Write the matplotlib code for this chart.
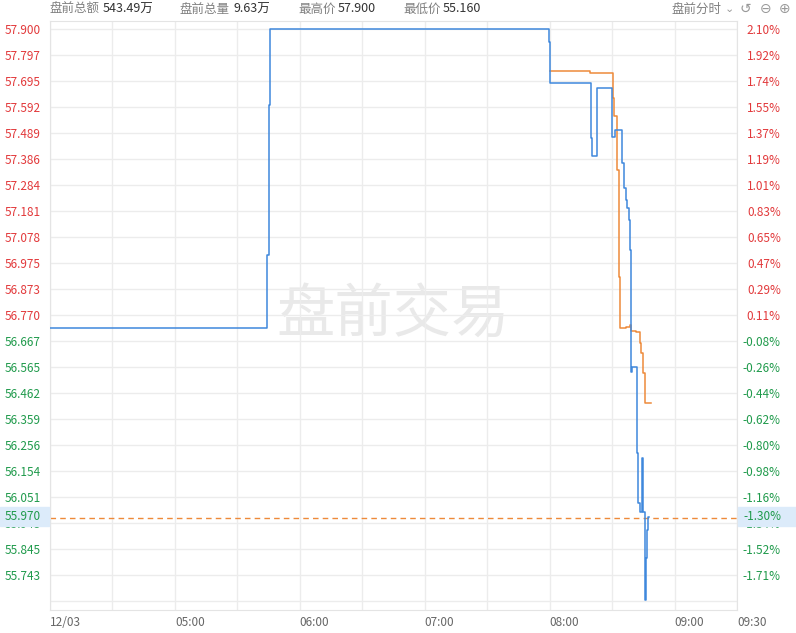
import matplotlib.pyplot as plt
import matplotlib.patches as mpatches

plt.rcParams['font.family'] = ['Noto Sans CJK SC', 'DejaVu Sans']

# price axis ticks (left) and percent ticks (right)
price_ticks = [57.900, 57.797, 57.695, 57.592, 57.489, 57.386, 57.284, 57.181,
               57.078, 56.975, 56.873, 56.770, 56.667, 56.565, 56.462, 56.359,
               56.256, 56.154, 56.051, 55.948, 55.845, 55.743]
pct_labels = ["2.10%", "1.92%", "1.74%", "1.55%", "1.37%", "1.19%", "1.01%", "0.83%",
              "0.65%", "0.47%", "0.29%", "0.11%", "-0.08%", "-0.26%", "-0.44%", "-0.62%",
              "-0.80%", "-0.98%", "-1.16%", "-1.34%", "-1.52%", "-1.71%"]
prev_close = 56.709
last_price = 55.970
last_pct = "-1.30%"

# time axis: minutes after 04:00
x_ticks = [0, 60, 120, 180, 240, 300, 330]
x_labels = ["12/03", "05:00", "06:00", "07:00", "08:00", "09:00", "09:30"]

# price line (blue)
t_price = [0, 104.3, 105.0, 105.6, 239.5, 240.4, 259.7, 260.4, 262.6, 270.0, 271.2,
           274.6, 275.5, 276.5, 277.2, 277.9, 278.4, 278.9, 279.2, 279.6, 281.8,
           282.2, 282.6, 283.4, 284.4, 284.9, 285.6, 286.4, 286.8, 287.1, 287.5]
v_price = [56.720, 57.007, 57.600, 57.900, 57.849, 57.687, 57.469, 57.398, 57.667, 57.473, 57.501,
           57.371, 57.272, 57.224, 57.193, 57.146, 57.027, 56.711, 56.545, 56.565, 56.446,
           56.225, 56.028, 55.990, 56.205, 55.990, 55.644, 55.810, 55.920, 55.973, 55.973]

# average line (orange)
t_avg = [240.4, 259.2, 270.2, 270.7, 272.5, 273.3, 274.0, 276.5, 278.4, 279.2,
         281.6, 283.2, 284.0, 284.8, 285.6, 288.8]
v_avg = [57.734, 57.726, 57.627, 57.556, 57.343, 56.920, 56.719, 56.723, 56.731, 56.707,
         56.703, 56.660, 56.620, 56.540, 56.423, 56.423]

red = '#e2393b'
green = '#1f9a4b'
blue = '#3f88dc'
orange = '#ee8a3a'
grid_c = '#ececec'

fig = plt.figure(figsize=(7.96, 6.33), dpi=100)
ax = fig.add_axes([50 / 796, 23 / 633, 687 / 796, 589 / 633])

ax.plot(t_price, v_price, color=blue, lw=1.1, drawstyle='steps-post', zorder=3)
ax.plot(t_avg, v_avg, color=orange, lw=1.1, drawstyle='steps-post', zorder=2)
ax.axhline(last_price, color=orange, lw=1, ls=(0, (4, 3)), zorder=2)

ax.set_xlim(0, 330)
ax.set_ylim(55.6048, 57.9316)

ax.set_xticks(x_ticks)
ax.set_xticklabels(x_labels, ha='left')
ax.set_xticks(list(range(30, 330, 60)), minor=True)
ax.set_yticks(price_ticks)
ax.set_yticklabels(["%.3f" % p for p in price_ticks])
ax.set_yticks([55.640], minor=True)
for lbl, p in zip(ax.get_yticklabels(), price_ticks):
    lbl.set_color(red if p > prev_close else green)

ax.grid(True, which='both', color=grid_c, lw=1)
ax.tick_params(axis='both', which='both', length=0, labelsize=8.5)
ax.tick_params(axis='x', colors='#666666', pad=4)
ax.tick_params(axis='y', pad=6.5)
for s in ax.spines.values():
    s.set_color('#e4e4e4')

ax2 = ax.twinx()
ax2.set_ylim(ax.get_ylim())
ax2.set_yticks(price_ticks)
ax2.set_yticklabels(pct_labels, ha='right')
ax2.tick_params(axis='y', length=0, labelsize=8.5, pad=31.5)
for lbl, p in zip(ax2.get_yticklabels(), price_ticks):
    lbl.set_color(red if p > prev_close else green)
for s in ax2.spines.values():
    s.set_visible(False)

# watermark
ax.text(0.5, 0.5, "盘前交易", transform=ax.transAxes, fontsize=42,
        color='#e9e9e9', ha='center', va='center', zorder=1)

# last price highlight boxes
yb = (633 - 526) / 633
hb = 19 / 633
fig.add_artist(mpatches.Rectangle((0, yb), 49 / 796, hb, transform=fig.transFigure,
                                  color='#dcebfa', zorder=5))
fig.add_artist(mpatches.Rectangle((738 / 796, yb), 58 / 796, hb, transform=fig.transFigure,
                                  color='#dcebfa', zorder=5))
yc = (633 - 516.5) / 633
fig.text(41 / 796, yc, "%.3f" % last_price, color=green, fontsize=8.5, ha='right', va='center', zorder=6)
fig.text(781 / 796, yc, last_pct, color=green, fontsize=8.5, ha='right', va='center', zorder=6)

# header
hy = (633 - 9) / 633
header = [(50, "盘前总额", 103, "543.49万"), (180, "盘前总量", 233, "9.63万"),
          (298, "最高价", 338, "57.900"), (403, "最低价", 443, "55.160")]
for x0, name, x1, val in header:
    fig.text(x0 / 796, hy, name, color='#808080', fontsize=9, va='center')
    fig.text(x1 / 796, hy, val, color='#333333', fontsize=9, va='center')
fig.text(672 / 796, hy, "盘前分时", color='#808080', fontsize=9, va='center')
fig.text(725 / 796, hy, "⌄", color='#999999', fontsize=8, va='center', family='DejaVu Sans')
fig.text(740 / 796, hy, "↺", color='#999999', fontsize=10, va='center', family='DejaVu Sans')
fig.text(760 / 796, hy, "⊖", color='#999999', fontsize=10, va='center', family='DejaVu Sans')
fig.text(779 / 796, hy, "⊕", color='#999999', fontsize=10, va='center', family='DejaVu Sans')

fig.savefig("out.png", dpi=100)
